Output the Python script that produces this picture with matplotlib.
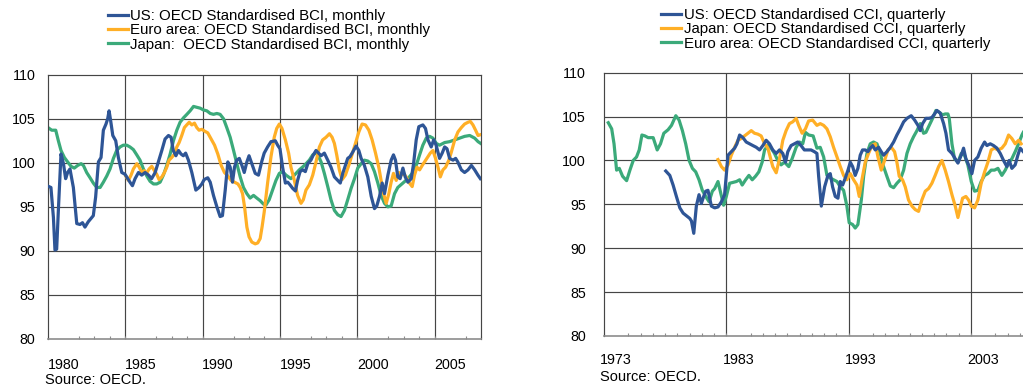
import matplotlib
matplotlib.use("Agg")
import matplotlib.pyplot as plt

plt.rcParams["font.family"] = ["Liberation Sans", "DejaVu Sans"]

# ---------------- Business confidence (monthly) ----------------
bci_us_t = [1979.06, 1979.19, 1979.35, 1979.45, 1979.56, 1979.67, 1979.84, 1980.0, 1980.14, 1980.27,
            1980.42, 1980.64, 1980.86, 1981.07, 1981.23, 1981.39, 1981.6, 1981.93, 1982.08, 1982.26,
            1982.43, 1982.58, 1982.75, 1982.86, 1982.95, 1983.05, 1983.19, 1983.38, 1983.55, 1983.77,
            1983.98, 1984.3, 1984.46, 1984.63, 1984.85, 1985.06, 1985.28, 1985.5, 1985.7, 1985.93,
            1986.14, 1986.36, 1986.57, 1986.79, 1986.96, 1987.1, 1987.27, 1987.44, 1987.6, 1987.75,
            1987.9, 1988.08, 1988.3, 1988.56, 1988.77, 1988.95, 1989.1, 1989.33, 1989.49, 1989.7,
            1989.92, 1990.13, 1990.28, 1990.46, 1990.63, 1990.78, 1990.93, 1991.06, 1991.2, 1991.37,
            1991.54, 1991.69, 1991.86, 1992.0, 1992.18, 1992.4, 1992.61, 1992.83, 1992.98, 1993.2,
            1993.42, 1993.7, 1993.85, 1994.0, 1994.17, 1994.35, 1994.5, 1994.65, 1994.82, 1995.0,
            1995.14, 1995.3, 1995.47, 1995.64, 1995.8, 1996.0, 1996.16, 1996.33, 1996.5, 1996.66,
            1996.87, 1997.09, 1997.3, 1997.52, 1997.74, 1997.9, 1998.06, 1998.23, 1998.38, 1998.53,
            1998.7, 1998.92, 1999.1, 1999.25, 1999.46, 1999.68, 1999.9, 2000.11, 2000.26, 2000.44,
            2000.61, 2000.76, 2000.98, 2001.19, 2001.34, 2001.47, 2001.62, 2001.77, 2001.95, 2002.1,
            2002.27, 2002.49, 2002.64, 2002.81, 2002.98, 2003.24, 2003.41, 2003.57, 2003.78, 2003.94,
            2004.1, 2004.32, 2004.49, 2004.65, 2004.8, 2004.97, 2005.19, 2005.36, 2005.5, 2005.73,
            2005.94, 2006.16, 2006.38, 2006.59, 2006.8, 2006.96]
bci_us = [97.3, 97.2, 93.8, 90.1, 90.2, 94.6, 101.0, 99.9, 98.2, 98.9,
          99.3, 97.2, 93.1, 93.0, 93.2, 92.7, 93.3, 94.0, 96.1, 100.1,
          100.6, 103.7, 104.4, 105.0, 105.9, 104.8, 103.1, 102.5, 100.6, 98.9,
          98.7, 97.8, 97.4, 98.2, 98.9, 98.6, 98.9, 98.6, 98.2, 98.9,
          100.1, 101.4, 102.7, 103.1, 102.9, 101.4, 100.8, 101.4, 101.0, 100.8,
          101.1, 100.3, 98.9, 96.9, 97.2, 97.6, 98.1, 98.3, 97.8, 96.3,
          95.0, 93.9, 94.0, 96.9, 100.1, 99.5, 97.8, 99.5, 100.3, 100.5,
          99.7, 98.9, 100.1, 100.8, 99.9, 98.8, 98.6, 100.2, 101.1, 101.8,
          102.4, 102.5, 102.0, 101.6, 99.5, 97.7, 97.8, 97.5, 97.1, 96.8,
          98.0, 99.0, 99.2, 99.0, 99.9, 100.3, 100.9, 101.4, 101.1, 100.8,
          101.1, 100.3, 99.5, 98.4, 98.0, 97.7, 98.8, 99.7, 100.5, 100.7,
          101.2, 101.9, 101.4, 100.5, 99.7, 98.4, 96.2, 94.8, 95.1, 96.2,
          97.7, 96.5, 98.6, 100.3, 100.9, 100.3, 98.4, 98.2, 99.4, 98.4,
          97.8, 98.2, 99.9, 102.6, 104.1, 104.3, 103.9, 102.6, 101.8, 102.6,
          102.0, 100.5, 101.1, 101.8, 101.6, 100.5, 100.3, 100.5, 100.1, 99.2,
          98.9, 99.2, 99.7, 99.2, 98.6, 98.2]

bci_ea_t = [1984.03, 1984.2, 1984.37, 1984.52, 1984.74, 1984.9, 1985.06, 1985.22, 1985.37, 1985.54,
            1985.71, 1985.88, 1986.03, 1986.18, 1986.36, 1986.53, 1986.68, 1986.83, 1987.0, 1987.18,
            1987.33, 1987.48, 1987.65, 1987.82, 1987.97, 1988.13, 1988.3, 1988.47, 1988.62, 1988.77,
            1988.95, 1989.12, 1989.33, 1989.55, 1989.77, 1989.98, 1990.2, 1990.41, 1990.63, 1990.84,
            1991.06, 1991.28, 1991.43, 1991.58, 1991.71, 1991.86, 1992.0, 1992.18, 1992.4, 1992.56,
            1992.72, 1992.85, 1992.98, 1993.2, 1993.42, 1993.63, 1993.79, 1993.96, 1994.13, 1994.35,
            1994.56, 1994.71, 1994.93, 1995.14, 1995.36, 1995.51, 1995.68, 1995.9, 1996.12, 1996.33,
            1996.55, 1996.76, 1996.98, 1997.2, 1997.37, 1997.52, 1997.67, 1997.84, 1998.02, 1998.23,
            1998.45, 1998.66, 1998.88, 1999.1, 1999.31, 1999.53, 1999.75, 1999.96, 2000.18, 2000.39,
            2000.54, 2000.7, 2000.87, 2001.04, 2001.19, 2001.34, 2001.52, 2001.69, 2001.84, 2001.99,
            2002.16, 2002.33, 2002.55, 2002.7, 2002.86, 2003.03, 2003.2, 2003.35, 2003.57, 2003.72,
            2003.89, 2004.06, 2004.22, 2004.37, 2004.54, 2004.71, 2004.92, 2005.08, 2005.3, 2005.51,
            2005.73, 2005.94, 2006.16, 2006.31, 2006.48, 2006.65, 2006.81, 2006.98]
bci_ea = [98.5, 98.0, 98.6, 99.3, 99.9, 99.5, 98.9, 99.1, 98.8, 99.3,
          99.6, 99.1, 98.7, 98.1, 98.4, 98.9, 99.5, 100.3, 100.6, 101.0,
          101.8, 102.3, 103.1, 104.0, 104.3, 104.6, 104.3, 104.5, 104.0, 103.7,
          103.8, 103.6, 103.4, 102.7, 102.0, 101.0, 99.7, 98.9, 98.5, 98.0,
          97.8, 97.6, 97.2, 96.5, 95.0, 92.7, 91.6, 91.0, 90.8, 90.9,
          91.4, 92.8, 94.4, 97.7, 100.7, 102.9, 103.9, 104.4, 103.9, 102.6,
          101.1, 99.5, 98.0, 96.3, 95.4, 95.8, 96.9, 97.5, 98.6, 100.1,
          101.8, 102.6, 102.9, 103.3, 102.9, 102.2, 100.9, 99.2, 98.1, 98.6,
          99.7, 100.9, 102.2, 103.5, 104.4, 104.3, 103.7, 102.6, 101.1, 99.5,
          98.0, 96.5, 95.4, 96.5, 97.8, 98.8, 98.0, 98.9, 98.6, 98.8,
          98.4, 97.8, 97.3, 98.6, 99.5, 99.2, 99.7, 100.1, 100.7, 101.1,
          101.4, 100.5, 99.5, 98.4, 99.2, 99.5, 100.3, 101.2, 102.6, 103.5,
          104.0, 104.4, 104.6, 104.7, 104.3, 103.7, 103.1, 103.2]

bci_jp_t = [1979.0, 1979.24, 1979.5, 1979.67, 1979.84, 1980.06, 1980.27, 1980.49, 1980.7, 1980.92,
            1981.14, 1981.29, 1981.5, 1981.72, 1981.93, 1982.15, 1982.37, 1982.58, 1982.8, 1983.01,
            1983.23, 1983.44, 1983.66, 1983.87, 1984.09, 1984.3, 1984.52, 1984.74, 1984.95, 1985.17,
            1985.39, 1985.6, 1985.82, 1986.03, 1986.25, 1986.46, 1986.68, 1986.9, 1987.11, 1987.33,
            1987.54, 1987.76, 1987.98, 1988.19, 1988.41, 1988.62, 1988.84, 1989.05, 1989.27, 1989.49,
            1989.7, 1989.92, 1990.13, 1990.35, 1990.56, 1990.78, 1991.0, 1991.21, 1991.43, 1991.64,
            1991.86, 1992.07, 1992.29, 1992.5, 1992.72, 1992.94, 1993.09, 1993.3, 1993.52, 1993.74,
            1993.96, 1994.17, 1994.39, 1994.71, 1994.93, 1995.25, 1995.58, 1995.9, 1996.12, 1996.3,
            1996.45, 1996.66, 1996.87, 1997.09, 1997.3, 1997.52, 1997.74, 1997.95, 1998.17, 1998.38,
            1998.6, 1998.82, 1999.03, 1999.25, 1999.46, 1999.68, 1999.9, 2000.11, 2000.33, 2000.54,
            2000.76, 2000.98, 2001.19, 2001.41, 2001.62, 2001.95, 2002.27, 2002.6, 2002.81, 2003.03,
            2003.24, 2003.46, 2003.68, 2003.89, 2004.11, 2004.32, 2004.65, 2004.97, 2005.3, 2005.62,
            2005.94, 2006.27, 2006.59, 2006.81, 2006.98]
bci_jp = [104.0, 103.7, 103.7, 102.5, 101.4, 100.6, 100.1, 99.6, 99.4, 99.7,
          99.9, 99.7, 98.9, 98.3, 97.7, 97.2, 97.2, 97.8, 98.5, 99.3,
          100.5, 101.4, 101.8, 102.0, 102.0, 101.8, 101.5, 100.9, 100.3, 99.3,
          98.5, 97.9, 97.6, 97.6, 97.8, 98.6, 99.7, 101.0, 102.5, 103.7,
          104.6, 105.1, 105.5, 105.9, 106.4, 106.3, 106.2, 106.0, 105.9, 105.6,
          105.5, 105.6, 105.5, 105.0, 104.0, 102.9, 101.4, 99.9, 98.4, 97.2,
          96.5, 96.0, 96.3, 96.0, 95.7, 95.3, 95.2, 95.8, 96.9, 98.0,
          98.8, 99.0, 98.6, 98.2, 98.6, 99.2, 99.7, 100.3, 100.9, 101.1,
          100.9, 100.1, 98.8, 97.3, 95.8, 94.6, 94.1, 93.9, 94.6, 95.8,
          97.1, 98.2, 99.4, 99.9, 100.3, 100.2, 99.9, 99.0, 97.7, 96.3,
          95.4, 95.0, 95.1, 96.5, 97.2, 97.7, 98.2, 98.9, 99.7, 100.9,
          102.0, 102.8, 103.0, 102.8, 102.2, 102.0, 102.3, 102.4, 102.6, 102.8,
          103.0, 103.1, 102.8, 102.4, 102.2]

# ---------------- Consumer confidence (quarterly) ----------------
cci_us_t = [1977.05, 1977.38, 1977.65, 1977.92, 1978.2, 1978.47, 1978.74, 1979.01, 1979.15, 1979.34,
            1979.55, 1979.77, 1979.96, 1980.15, 1980.32, 1980.5, 1980.78, 1981.05, 1981.32, 1981.6,
            1981.86, 1982.14, 1982.41, 1982.68, 1982.87, 1983.09, 1983.36, 1983.63, 1983.9, 1984.17,
            1984.45, 1984.72, 1984.99, 1985.26, 1985.53, 1985.8, 1986.08, 1986.35, 1986.62, 1986.84,
            1987.03, 1987.3, 1987.57, 1987.84, 1988.11, 1988.38, 1988.66, 1988.93, 1989.2, 1989.41,
            1989.55, 1989.77, 1990.04, 1990.31, 1990.5, 1990.69, 1990.91, 1991.13, 1991.32, 1991.51,
            1991.73, 1991.95, 1992.14, 1992.33, 1992.54, 1992.76, 1992.95, 1993.14, 1993.36, 1993.58,
            1993.77, 1993.96, 1994.18, 1994.45, 1994.67, 1994.86, 1995.13, 1995.41, 1995.68, 1995.95,
            1996.22, 1996.5, 1996.77, 1997.12, 1997.4, 1997.67, 1997.86, 1998.05, 1998.32, 1998.59,
            1998.81, 1999.03, 1999.22, 1999.49, 1999.77, 1999.96, 2000.17, 2000.45, 2000.72, 2000.94,
            2001.21, 2001.4, 2001.59, 2001.81, 2002.08, 2002.3, 2002.57, 2002.84, 2003.12, 2003.31,
            2003.58, 2003.85, 2004.13, 2004.4, 2004.67, 2004.94, 2005.13, 2005.35, 2005.62, 2005.84,
            2006.03, 2006.28]
cci_us = [98.8, 98.3, 97.2, 95.9, 94.6, 94.0, 93.7, 93.4, 93.1, 91.7,
          94.8, 96.1, 95.1, 95.9, 96.5, 96.6, 94.8, 94.6, 94.7, 95.3,
          96.1, 100.6, 101.0, 101.4, 101.9, 102.9, 102.6, 102.1, 101.9, 101.7,
          101.5, 101.2, 101.7, 102.3, 101.9, 101.2, 100.8, 101.2, 100.8, 99.8,
          101.0, 101.7, 101.9, 102.1, 101.7, 101.2, 101.2, 101.2, 101.0, 100.8,
          98.2, 94.8, 97.0, 98.3, 98.5, 97.0, 95.9, 95.7, 97.6, 97.2,
          98.0, 98.9, 99.8, 99.3, 98.3, 99.1, 100.6, 101.2, 101.2, 101.0,
          101.4, 101.7, 101.2, 101.5, 101.0, 100.6, 101.0, 101.5, 102.1, 102.9,
          103.6, 104.4, 104.8, 105.1, 104.6, 104.0, 103.4, 104.2, 104.8, 104.8,
          104.9, 105.3, 105.7, 105.4, 104.2, 103.1, 101.2, 100.8, 100.2, 99.7,
          100.6, 101.4, 100.2, 99.5, 98.5, 100.0, 100.4, 101.4, 102.1, 101.7,
          101.9, 101.7, 101.4, 100.8, 100.0, 99.3, 100.0, 99.1, 99.5, 100.6,
          101.4, 101.0]

cci_jp_t = [1981.32, 1981.6, 1981.86, 1982.14, 1982.41, 1982.68, 1982.95, 1983.22, 1983.49, 1983.77,
            1984.04, 1984.31, 1984.58, 1984.85, 1985.13, 1985.4, 1985.59, 1985.8, 1986.08, 1986.35,
            1986.62, 1986.89, 1987.16, 1987.43, 1987.71, 1987.92, 1988.2, 1988.47, 1988.73, 1989.06,
            1989.41, 1989.68, 1989.96, 1990.23, 1990.5, 1990.77, 1991.05, 1991.32, 1991.59, 1991.86,
            1992.14, 1992.41, 1992.68, 1992.87, 1993.09, 1993.36, 1993.63, 1993.91, 1994.18, 1994.4,
            1994.67, 1994.94, 1995.22, 1995.49, 1995.76, 1995.95, 1996.14, 1996.41, 1996.63, 1996.9,
            1997.18, 1997.45, 1997.72, 1997.99, 1998.27, 1998.54, 1998.81, 1999.08, 1999.36, 1999.63,
            1999.9, 2000.17, 2000.45, 2000.72, 2000.94, 2001.13, 2001.32, 2001.59, 2001.81, 2002.03,
            2002.3, 2002.57, 2002.84, 2003.12, 2003.39, 2003.66, 2003.93, 2004.21, 2004.53, 2004.81,
            2005.08, 2005.35, 2005.62, 2005.9, 2006.11]
cci_jp = [100.1, 99.3, 98.9, 99.5, 100.6, 101.5, 102.3, 102.5, 102.8, 103.1,
          103.4, 103.1, 103.0, 102.8, 101.9, 101.4, 100.4, 99.3, 98.6, 100.2,
          102.3, 103.4, 104.2, 104.4, 104.8, 104.0, 103.1, 103.6, 104.5, 104.6,
          104.0, 104.2, 104.0, 103.6, 102.7, 101.5, 100.4, 99.3, 98.3, 97.8,
          98.5, 97.8, 97.2, 95.9, 97.8, 99.8, 100.8, 101.7, 101.9, 100.4,
          98.9, 100.0, 101.2, 101.5, 101.0, 99.8, 98.2, 97.8, 97.0, 95.5,
          94.8, 94.4, 94.2, 95.5, 96.5, 96.8, 97.4, 98.3, 99.3, 100.0,
          98.9, 97.6, 96.1, 94.8, 93.5, 94.6, 95.7, 95.9, 95.5, 94.8,
          94.6, 95.5, 97.4, 98.7, 99.8, 101.2, 101.4, 101.2, 101.4, 101.9,
          102.9, 102.5, 101.9, 102.3, 101.9]

cci_ea_t = [1972.35, 1972.63, 1972.82, 1973.03, 1973.25, 1973.52, 1973.85, 1974.12, 1974.39, 1974.66,
            1974.88, 1975.1, 1975.34, 1975.61, 1976.02, 1976.35, 1976.62, 1976.89, 1977.24, 1977.52,
            1977.87, 1978.14, 1978.41, 1978.68, 1978.96, 1979.23, 1979.5, 1979.77, 1980.04, 1980.32,
            1980.59, 1980.86, 1981.05, 1981.32, 1981.51, 1981.78, 1982.0, 1982.27, 1982.54, 1982.82,
            1983.09, 1983.3, 1983.58, 1983.85, 1984.12, 1984.39, 1984.66, 1984.93, 1985.13, 1985.4,
            1985.67, 1985.94, 1986.21, 1986.48, 1986.76, 1987.11, 1987.38, 1987.71, 1987.98, 1988.25,
            1988.47, 1988.74, 1989.1, 1989.41, 1989.68, 1989.96, 1990.23, 1990.5, 1990.77, 1991.05,
            1991.32, 1991.59, 1991.86, 1992.05, 1992.33, 1992.54, 1992.76, 1993.04, 1993.23, 1993.5,
            1993.77, 1994.04, 1994.32, 1994.59, 1994.86, 1995.13, 1995.41, 1995.68, 1995.95, 1996.22,
            1996.5, 1996.77, 1997.04, 1997.31, 1997.59, 1997.86, 1998.13, 1998.32, 1998.59, 1998.87,
            1999.14, 1999.41, 1999.68, 1999.9, 2000.12, 2000.23, 2000.45, 2000.66, 2000.94, 2001.21,
            2001.48, 2001.75, 2002.03, 2002.3, 2002.57, 2002.84, 2003.12, 2003.39, 2003.66, 2003.93,
            2004.21, 2004.53, 2004.81, 2005.08, 2005.35, 2005.62, 2005.9, 2006.17, 2006.28]
cci_ea = [104.3, 103.6, 101.9, 98.9, 99.1, 98.2, 97.7, 98.9, 100.0, 100.4,
          101.2, 102.9, 102.8, 102.6, 102.6, 101.2, 101.9, 103.1, 103.5, 104.0,
          105.1, 104.6, 103.4, 101.9, 100.0, 99.1, 98.7, 97.8, 96.6, 95.9,
          95.3, 96.5, 96.8, 97.6, 96.5, 94.9, 95.9, 97.4, 97.5, 97.6,
          97.8, 97.2, 97.8, 98.3, 97.8, 98.2, 98.7, 99.8, 101.2, 101.7,
          101.4, 100.8, 100.0, 99.5, 99.8, 99.3, 100.2, 101.5, 102.1, 101.9,
          103.2, 102.9, 102.8, 101.4, 101.5, 100.4, 98.3, 98.0, 97.8, 97.6,
          97.0, 96.6, 94.8, 92.9, 92.7, 92.3, 92.7, 95.5, 98.2, 100.8,
          101.9, 102.1, 101.9, 100.8, 99.3, 98.2, 97.1, 96.9, 97.4, 97.8,
          98.9, 100.8, 101.9, 102.7, 103.4, 104.2, 103.1, 103.2, 104.0, 104.8,
          105.7, 105.5, 105.2, 105.3, 105.3, 104.8, 101.9, 100.2, 99.8, 100.8,
          100.6, 99.5, 97.6, 96.5, 96.6, 97.6, 98.3, 98.5, 98.9, 98.9,
          99.1, 98.3, 98.9, 99.7, 100.2, 101.0, 101.9, 102.9, 103.2]

# Axis labelling
bci_labels = ["US: OECD Standardised BCI, monthly",
              "Euro area: OECD Standardised BCI, monthly",
              "Japan:  OECD Standardised BCI, monthly"]
cci_labels = ["US: OECD Standardised CCI, quarterly",
              "Japan: OECD Standardised CCI, quarterly",
              "Euro area: OECD Standardised CCI, quarterly"]
y_ticks = [80, 85, 90, 95, 100, 105, 110]
bci_year_labels = [1980, 1985, 1990, 1995, 2000, 2005]
bci_grid_years = [1984, 1989, 1994, 1999, 2004]
cci_year_labels = [1973, 1983, 1993, 2003]
cci_grid_years = [1982, 1992, 2002]
source = "Source: OECD."

BLUE = "#2E5596"
ORANGE = "#FFAF26"
GREEN = "#3BAA7A"
GRID = "#454545"
SPINE = "#8c8c8c"
LW = 2.3

fig = plt.figure(figsize=(10.23, 3.87), dpi=100)


def style_axes(ax, xlim, label_years, grid_years, ypad, xpad):
    ax.set_xlim(*xlim)
    ax.set_ylim(80, 110)
    ax.set_yticks(y_ticks)
    ax.set_yticklabels([str(v) for v in y_ticks])
    ax.set_xticks(label_years)
    ax.set_xticklabels([str(v) for v in label_years])
    ax.set_xticks(range(int(xlim[0]), int(xlim[1]) + 1), minor=True)
    ax.tick_params(axis="y", length=0, pad=ypad, labelsize=10.3, colors="black")
    ax.tick_params(axis="x", which="major", length=0, pad=xpad, labelsize=10.3, colors="black")
    ax.tick_params(axis="x", which="minor", direction="in", length=2.2, width=0.8, color=SPINE)
    for v in y_ticks[1:-1]:
        ax.axhline(v, color=GRID, lw=0.85, zorder=1)
    for g in grid_years:
        ax.axvline(g, color=GRID, lw=0.85, zorder=1)
    for s in ax.spines.values():
        s.set_color(GRID)
        s.set_linewidth(0.85)
    ax.spines["bottom"].set_color(SPINE)
    ax.spines["bottom"].set_linewidth(1.2)


# Left panel: business confidence
ax1 = fig.add_axes([48 / 1023, 1 - 339 / 387, 433 / 1023, 264.3 / 387])
style_axes(ax1, (1979, 2007), bci_year_labels, bci_grid_years, ypad=9, xpad=14)
l1, = ax1.plot(bci_us_t, bci_us, color=BLUE, lw=LW, zorder=4)
l2, = ax1.plot(bci_ea_t, bci_ea, color=ORANGE, lw=LW, zorder=3)
l3, = ax1.plot(bci_jp_t, bci_jp, color=GREEN, lw=LW, zorder=2)
fig.legend([l1, l2, l3], bci_labels, loc="upper left",
           bbox_to_anchor=(108 / 1023, 1 - 9 / 387), frameon=False, fontsize=10.8,
           handlelength=1.35, handletextpad=0.15, labelspacing=0.02,
           borderpad=0, borderaxespad=0)
fig.text(45 / 1023, 1 - 380 / 387, source, fontsize=10.5, va="center", ha="left")

# Right panel: consumer confidence
ax2 = fig.add_axes([604 / 1023, 1 - 336 / 387, 419 / 1023, 263.3 / 387])
style_axes(ax2, (1972, 2006.26), cci_year_labels, cci_grid_years, ypad=13, xpad=12)
ax2.spines["right"].set_visible(False)
r1, = ax2.plot(cci_us_t, cci_us, color=BLUE, lw=LW, zorder=4)
r2, = ax2.plot(cci_jp_t, cci_jp, color=ORANGE, lw=LW, zorder=3)
r3, = ax2.plot(cci_ea_t, cci_ea, color=GREEN, lw=LW, zorder=2)
fig.legend([r1, r2, r3], cci_labels, loc="upper left",
           bbox_to_anchor=(661 / 1023, 1 - 8 / 387), frameon=False, fontsize=10.8,
           handlelength=1.35, handletextpad=0.15, labelspacing=0.02,
           borderpad=0, borderaxespad=0)
fig.text(600 / 1023, 1 - 377 / 387, source, fontsize=10.5, va="center", ha="left")

fig.savefig("out.png", dpi=100)
